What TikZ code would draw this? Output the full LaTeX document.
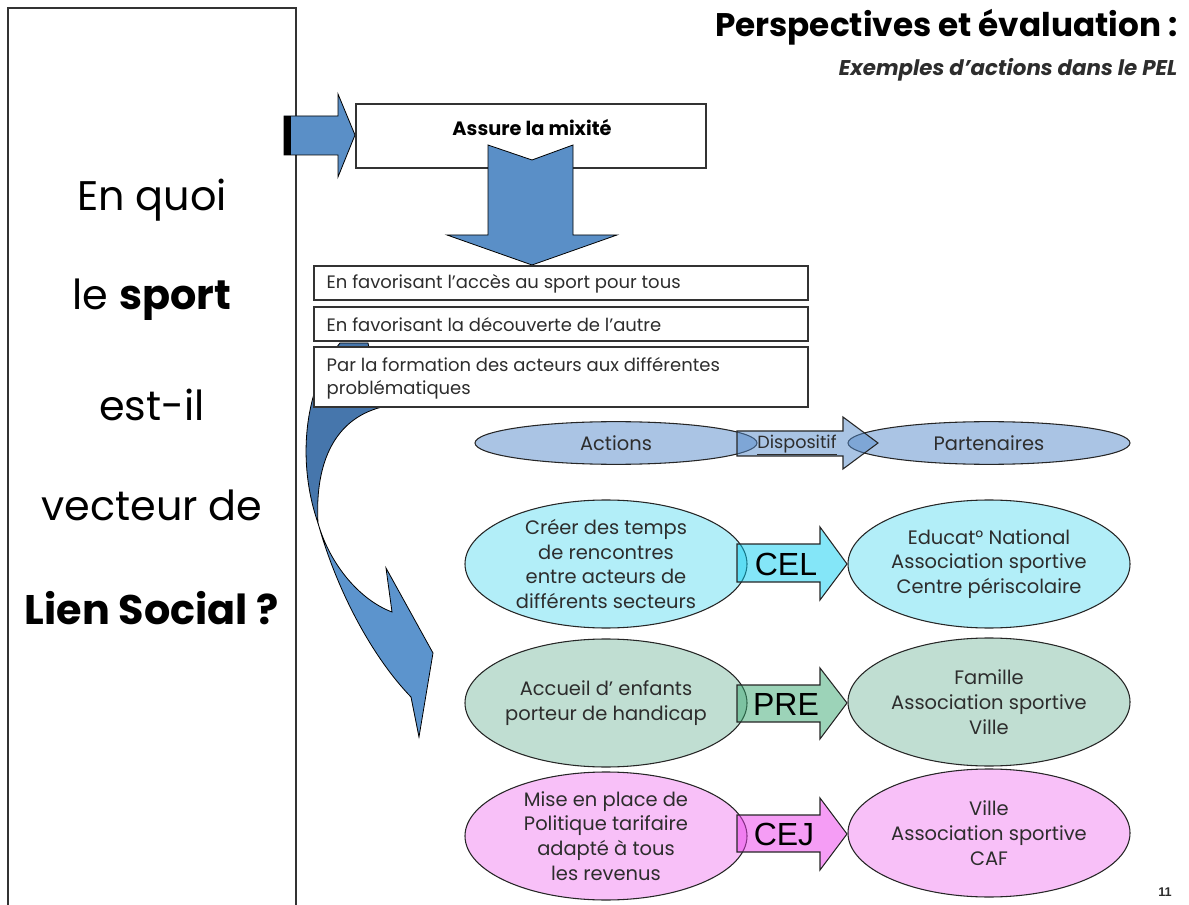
\documentclass[tikz,border=0pt]{standalone}
\usepackage{fontspec}
\setmainfont{Poppins}
\newfontfamily\arialfont{Liberation Sans}
\usetikzlibrary{shapes.geometric}
\definecolor{textgray}{RGB}{45,45,45}
\definecolor{arrowblue}{RGB}{90,143,199}
\definecolor{ribbondark}{RGB}{70,118,172}
\definecolor{ribbonlight}{RGB}{92,148,205}
\definecolor{hdrfill}{RGB}{170,196,228}
\definecolor{hdrarrow}{RGB}{83,137,201}
\definecolor{celfill}{RGB}{178,238,248}
\definecolor{celarrow}{RGB}{10,205,241}
\definecolor{prefill}{RGB}{192,222,210}
\definecolor{prearrow}{RGB}{57,167,113}
\definecolor{cejfill}{RGB}{248,192,248}
\definecolor{cejarrow}{RGB}{235,60,235}
\begin{document}
\begin{tikzpicture}[x=0.75pt,y=-0.75pt,
  panel/.style={draw=black!80,line width=1.4pt},
  textbox/.style={draw=black!80,line width=1.2pt,fill=white},
  bigarrow/.style={fill=arrowblue,draw=black,line width=0.6pt},
  oval/.style={ellipse,draw=black!85,line width=0.8pt,inner sep=0pt},
  hdroval/.style={oval,fill=hdrfill,minimum width=211.5pt,minimum height=32pt},
  rowoval/.style={oval,minimum width=211.5pt,minimum height=96pt},
  flowarrow/.style={draw=black!85,line width=0.8pt,fill opacity=0.5},
  lefttext/.style={text=black,font=\fontsize{31}{36}\selectfont},
  boxtext/.style={text=textgray,anchor=west,align=left,font=\fontsize{13.5}{17}\selectfont},
  ovaltext/.style={text=textgray,align=center,font=\fontsize{14.6}{18.6}\selectfont},
  codetext/.style={text=black,font=\arialfont\fontsize{24}{26}\selectfont}]
\useasboundingbox (0,0) rectangle (1189,905);

% left question panel
\draw[panel] (8,8) rectangle (296,920);
\node[lefttext] (q1) at (152,200) {En quoi};
\node[lefttext] (q2) at (152,300) {le \textbf{sport}};
\node[lefttext] (q3) at (152,405) {est-il};
\node[lefttext] (q4) at (152,505) {vecteur de};
\node[lefttext] (q5) at (152,608) {\textbf{Lien Social ?}};

% title
\node[anchor=east,text=black,font=\bfseries\fontsize{24.5}{28}\selectfont] (title) at (1182,27) {Perspectives et évaluation :};
\node[anchor=east,text=textgray,font=\bfseries\itshape\fontsize{16}{19}\selectfont] (subtitle) at (1182,70) {Exemples d’actions dans le PEL};

% arrow into the main box
\draw[bigarrow] (284,116) -- (338,116) -- (338,94) -- (355,135) -- (338,177) -- (338,155) -- (284,155) -- cycle;
\fill[black] (284,116) rectangle (291,155);

% main box
\node[textbox,minimum width=262.5pt,minimum height=48pt] (mix) at (531,136) {};
\node[text=black,font=\bfseries\fontsize{14.5}{17}\selectfont] (mixT) at (532,128) {Assure la mixité};

% down arrow
\draw[bigarrow] (488,145) -- (532,160) -- (573,145) -- (573,235) -- (617,235) -- (532,265) -- (447,235) -- (488,235) -- cycle;

% twisted ribbon arrow
\draw[fill=ribbondark,draw=black,line width=0.6pt]
  (340,343) .. controls (305,385) and (296,460) .. (318,523)
  .. controls (315,470) and (330,420) .. (382,407) -- (368,343) -- cycle;
\draw[fill=ribbonlight,draw=black,line width=0.6pt]
  (318,523) .. controls (338,595) and (375,660) .. (411,697)
  -- (419,737) -- (433,653) -- (386,568) -- (392,612)
  .. controls (360,600) and (330,565) .. (318,523) -- cycle;

% means boxes
\node[textbox,minimum width=370.5pt,minimum height=25.5pt] (b1) at (561,283) {};
\node[textbox,minimum width=370.5pt,minimum height=25.5pt] (b2) at (561,324) {};
\node[textbox,minimum width=370.5pt,minimum height=45pt] (b3) at (561,377) {};
\node[boxtext] (b1T) at (322,284) {En favorisant l'accès au sport pour tous};
\node[boxtext] (b2T) at (322,325) {En favorisant la découverte de l'autre};
\node[boxtext] (b3T) at (322,378) {Par la formation des acteurs aux différentes\\problématiques};

% header row
\node[hdroval] (act) at (616,443) {};
\node[hdroval] (part) at (989,443) {};
\draw[flowarrow,fill=hdrarrow] (737,431) -- (843,431) -- (843,417) -- (878,443) -- (843,469) -- (843,456) -- (737,456) -- cycle;
\node[ovaltext] (actT) at (act.center) {Actions};
\node[ovaltext] (partT) at (part.center) {Partenaires};
\node[text=textgray,font=\fontsize{13.2}{15}\selectfont] (dispT) at (797,445) {\underline{Dispositif}};

% CEL row
\node[rowoval,fill=celfill] (a1) at (606,564) {};
\node[rowoval,fill=celfill] (p1) at (989,564) {};
\draw[flowarrow,fill=celarrow] (737,544) -- (820,544) -- (820,527) -- (847,564) -- (820,600) -- (820,582) -- (737,582) -- cycle;
\node[ovaltext] (a1T) at (a1.center) {Créer des temps\\de rencontres\\entre acteurs de\\différents secteurs};
\node[ovaltext] (p1T) at (p1.center) {Educat° National\\Association sportive\\Centre périscolaire};
\node[codetext] (cel) at (786,564) {CEL};

% PRE row
\node[rowoval,fill=prefill] (a2) at (606,703) {};
\node[rowoval,fill=prefill] (p2) at (989,702) {};
\draw[flowarrow,fill=prearrow] (737,685) -- (820,685) -- (820,668) -- (847,703) -- (820,739) -- (820,722) -- (737,722) -- cycle;
\node[ovaltext] (a2T) at (a2.center) {Accueil d’ enfants\\porteur de handicap};
\node[ovaltext] (p2T) at (p2.center) {Famille\\Association sportive\\Ville};
\node[codetext] (pre) at (786,704) {PRE};

% CEJ row
\node[rowoval,fill=cejfill] (a3) at (606,836) {};
\node[rowoval,fill=cejfill] (p3) at (989,833) {};
\draw[flowarrow,fill=cejarrow] (737,815) -- (820,815) -- (820,798) -- (847,834) -- (820,870) -- (820,852) -- (737,852) -- cycle;
\node[ovaltext] (a3T) at (a3.center) {Mise en place de\\Politique tarifaire\\adapté à tous\\les revenus};
\node[ovaltext] (p3T) at (p3.center) {Ville\\Association sportive\\CAF};
\node[codetext] (cej) at (784,834) {CEJ};

% page number
\node[text=textgray,font=\arialfont\bfseries\fontsize{9.5}{11}\selectfont] (pg) at (1165,892) {11};
\end{tikzpicture}
\end{document}
